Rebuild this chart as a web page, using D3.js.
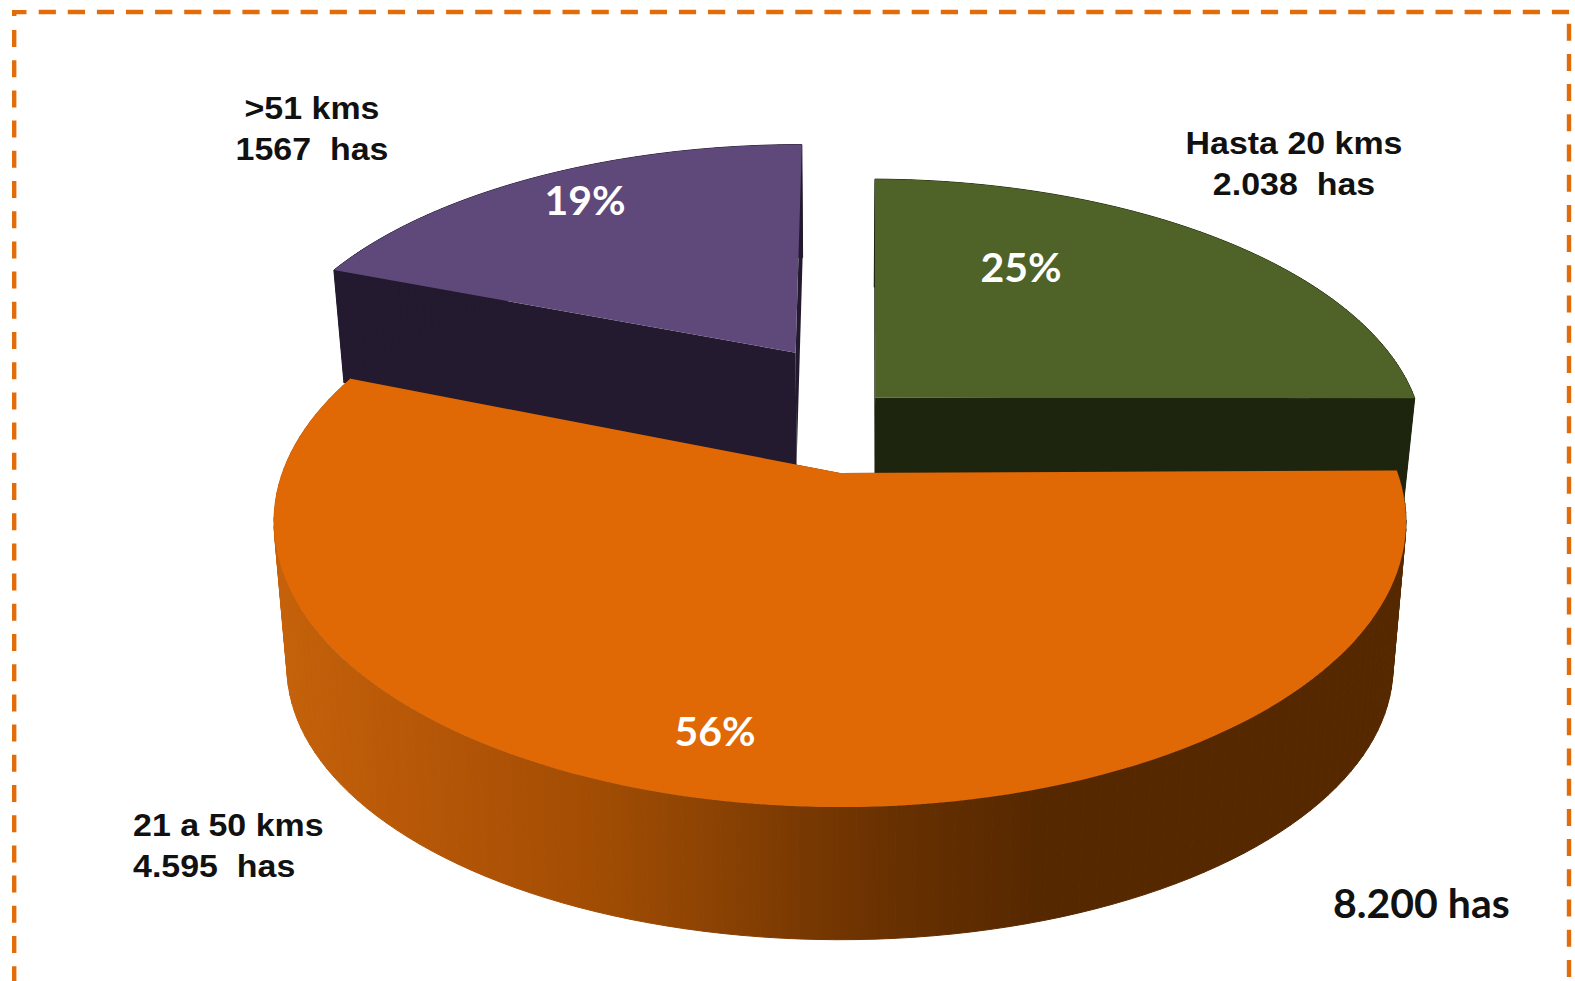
<!DOCTYPE html>
<html><head><meta charset="utf-8">
<style>html,body{margin:0;padding:0;background:#fff;overflow:hidden}svg{display:block}</style>
<script src="https://cdnjs.cloudflare.com/ajax/libs/d3/7.8.5/d3.min.js"></script>
</head><body>
<svg id="c" width="1575" height="981"></svg>
<script>
const categories = ["Hasta 20 kms","21 a 50 kms",">51 kms"];
const hectares = [2038,4595,1567];
const hectareLabels = ["2.038  has","4.595  has","1567  has"];
const percentLabels = ["25%","56%","19%"];
const topColors = ["#4F6228","#E06805","#5F497A"];
const wallColors = ["#1D250F","#562800","#241A30"];
const totalLabel = "8.200 has";

const W=1575,H=981;
const svg=d3.select("#c");
const cx=840, cy=473, p=0.172;
const sxScale=d3.scaleLinear().domain([0,1]).range([0,557.6]);
const syScale=d3.scaleLinear().domain([0,1]).range([0,276.6]);
// per-slice view settings: exploded offset, radius, rotation, extrusion
const views=[
  {ox:0.066,oy:-0.285,r:1.015,rot:0.0105,dy:108,aS:0.98,bS:1},
  {ox:0,oy:0,r:1.0,rot:0,dy:147,aS:0.977,bS:0.957},
  {ox:-0.086,oy:-0.47,r:1.022,rot:0,dy:113,aS:0.98,bS:1}
];
function project(x,y,bottom,v){
  const w=1-p*y;
  const aS=bottom?v.aS:1,bS=bottom?v.bS:1,d=bottom?v.dy:0;
  return [cx+aS*sxScale(x/w), cy+d+bS*syScale(y/w)];
}
const line=d3.line().x(d=>d[0]).y(d=>d[1]);
const pie=d3.pie().sort(null).startAngle(0).endAngle(2*Math.PI);
const arcs=pie(hectares);

function arcPts(a,i,bottom){
  const v=views[i],n=120;
  return d3.range(n+1).map(k=>{
    const t=a.startAngle+(a.endAngle-a.startAngle)*k/n+v.rot;
    return project(v.ox+v.r*Math.sin(t),v.oy-v.r*Math.cos(t),bottom,v);
  });
}
const defs=svg.append("defs");
const grad=defs.append("linearGradient").attr("id","wallGrad")
  .attr("gradientUnits","userSpaceOnUse").attr("x1",285).attr("x2",1040).attr("y1",0).attr("y2",0);
[[0,"#C4610A"],[0.22,"#B35507"],[0.42,"#A14C03"],[0.55,"#8E4403"],[0.68,"#7A3902"],[0.81,"#673000"],[1,wallColors[1]]]
  .forEach(s=>grad.append("stop").attr("offset",s[0]).attr("stop-color",s[1]));

svg.append("rect").attr("width",W).attr("height",H).attr("fill","#fff");

[2,0,1].forEach(i=>{
  const a=arcs[i],v=views[i];
  const top=arcPts(a,i,false),bot=arcPts(a,i,true);
  const apexT=project(v.ox,v.oy,false,v),apexB=project(v.ox,v.oy,true,v);
  const g=svg.append("g").attr("class","slice");
  const fillWall=i===1?"url(#wallGrad)":wallColors[i];
  // radial faces
  g.append("path").attr("d",line([apexT,top[0],bot[0],apexB])+"Z").attr("fill",wallColors[i]);
  g.append("path").attr("d",line([apexT,top[top.length-1],bot[bot.length-1],apexB])+"Z").attr("fill",wallColors[i]);
  // outer wall, swept between the two arcs
  g.selectAll("path.wall").data(d3.range(top.length-1)).enter().append("path").attr("class","wall")
    .attr("d",k=>line([top[k],top[k+1],bot[k+1],bot[k]])+"Z")
    .attr("fill",fillWall).attr("stroke",fillWall).attr("stroke-width",1);
  // top face
  g.append("path").attr("d",line([apexT].concat(top))+"Z").attr("fill",topColors[i]);
});

// dashed frame
const orange="#E36C0A";
const frame=[[38.7,12,W,12,"17.2 11.9"],[14.2,30,14.2,H,"17 13.2"],[1569,23.7,1569,H,"17 13.2"]];
svg.selectAll("line.f").data(frame).enter().append("line").attr("class","f")
  .attr("x1",d=>d[0]).attr("y1",d=>d[1]).attr("x2",d=>d[2]).attr("y2",d=>d[3])
  .attr("stroke",orange).attr("stroke-width",4.4).attr("stroke-dasharray",d=>d[4]);
svg.append("path").attr("d","M12 10H26.5V14.2H16.4V16H12Z").attr("fill",orange);

// category labels (the reference type is stretched horizontally)
const labelPos=[[1294,154,"middle"],[133,836,"start"],[312,119,"middle"]];
const lab=svg.selectAll("g.lab").data(categories).enter().append("g").attr("class","lab")
  .style("font-family","'Liberation Sans',Arial,sans-serif").style("font-weight","700")
  .style("font-size","31px").style("fill","#111");
lab.append("text").attr("transform",(d,i)=>`translate(${labelPos[i][0]},${labelPos[i][1]}) scale(1.095,1)`)
  .attr("text-anchor",(d,i)=>labelPos[i][2]).text(d=>d);
lab.append("text").attr("transform",(d,i)=>`translate(${labelPos[i][0]},${labelPos[i][1]+41}) scale(1.095,1)`)
  .attr("text-anchor",(d,i)=>labelPos[i][2])
  .style("white-space","pre").text((d,i)=>hectareLabels[i]);

// percent labels
const pctPos=[[1021,282],[715,746],[585,215]];
svg.selectAll("text.pct").data(percentLabels).enter().append("text").attr("class","pct")
  .attr("x",(d,i)=>pctPos[i][0]).attr("y",(d,i)=>pctPos[i][1]).attr("text-anchor","middle")
  .style("font-family","Lato,'Open Sans',sans-serif").style("font-weight","700")
  .style("font-size","41px").style("fill","#fff").text(d=>d);

svg.append("text").attr("x",1333).attr("y",918)
  .style("font-family","Lato,'Open Sans',sans-serif").style("font-weight","700")
  .style("font-size","41px").style("fill","#111").text(totalLabel);
</script>
</body></html>
